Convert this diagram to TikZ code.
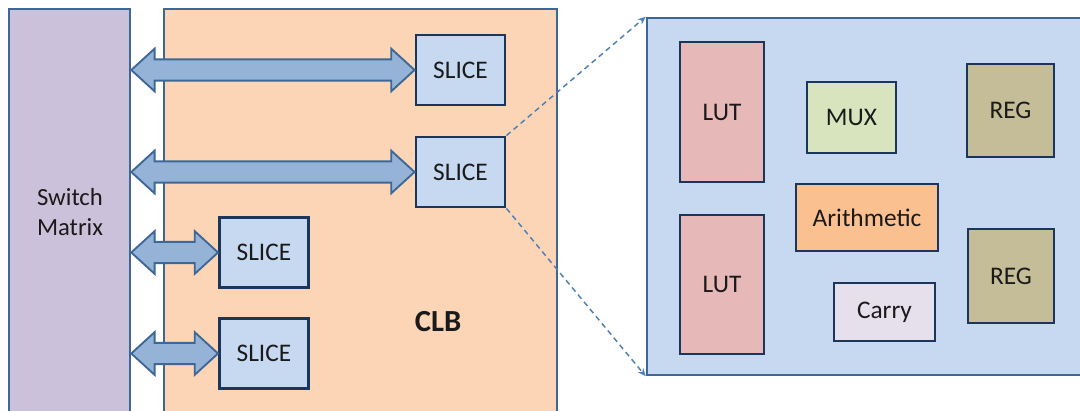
\documentclass[tikz,border=0pt]{standalone}
\usepackage{fontspec}
\setmainfont{Carlito}
\usetikzlibrary{calc,arrows.meta}

\definecolor{edgeblue}{HTML}{3D6797}
\definecolor{navy}{HTML}{1C355A}
\definecolor{smfill}{HTML}{CCC1DA}
\definecolor{clbfill}{HTML}{FBD5B5}
\definecolor{slicefill}{HTML}{C6D9F1}
\definecolor{arrowfill}{HTML}{95B3D7}
\definecolor{lutfill}{HTML}{E6B9B8}
\definecolor{muxfill}{HTML}{D7E4BD}
\definecolor{regfill}{HTML}{C4BD97}
\definecolor{arithfill}{HTML}{FAC090}
\definecolor{carryfill}{HTML}{E6E0EC}
\definecolor{txt}{HTML}{1A1A1A}
\definecolor{dashblue}{HTML}{4F7FB8}

\tikzset{
  outerbox/.style={draw=edgeblue, line width=1.9pt, inner sep=0pt},
  block/.style={draw=navy, line width=2.2pt, inner sep=0pt, text=txt, font=\fontsize{19}{22}\selectfont},
  slicebox/.style={block, fill=slicefill, minimum width=66.75pt, minimum height=52.5pt},
  dblarrow/.style={fill=arrowfill, draw=edgeblue, line width=1.4pt, line join=miter},
  zoomline/.style={draw=dashblue, line width=1.1pt, dash pattern=on 4pt off 3pt, -{Stealth[length=6pt,width=5pt]}},
  label/.style={text=txt, inner sep=0pt}
}

% double-headed block arrow from the east side of #1 to the west side of #2
\newcommand\busarrow[2]{%
  \filldraw[dblarrow] let \p1=(#1.east |- #2.west), \p2=(#2.west) in
    (\x1,\y1) -- (\x1+17.5pt,\y1+16pt) -- (\x1+17.5pt,\y1+8pt)
    -- (\x2-17.5pt,\y1+8pt) -- (\x2-17.5pt,\y1+16pt) -- (\x2,\y1)
    -- (\x2-17.5pt,\y1-16pt) -- (\x2-17.5pt,\y1-8pt)
    -- (\x1+17.5pt,\y1-8pt) -- (\x1+17.5pt,\y1-16pt) -- cycle;}

\begin{document}
\begin{tikzpicture}[x=0.75pt,y=-0.75pt]
\useasboundingbox (0,0) rectangle (1080,410);
\fill[white] (0,0) rectangle (1080,410);

% switch matrix and CLB frames
\node[outerbox, fill=smfill, minimum width=90.75pt, minimum height=315.75pt] (sm) at (69.5,219.5) {};
\node[label, font=\fontsize{18.5}{23}\selectfont, align=center] (smtext) at (70,212) {Switch\\Matrix};
\node[outerbox, fill=clbfill, minimum width=294.75pt, minimum height=315.75pt] (clb) at (360.5,219.5) {};
\node[label, font=\fontsize{23}{26}\selectfont\bfseries] (clbtext) at (438,322) {CLB};

% slices inside the CLB
\node[slicebox] (s1) at (460.5,70) {SLICE};
\node[slicebox] (s2) at (460.5,172) {SLICE};
\node[slicebox] (s3) at (264,252.5) {SLICE};
\node[slicebox] (s4) at (264,353.5) {SLICE};

% routing between switch matrix and slices
\busarrow{sm}{s1}
\busarrow{sm}{s2}
\busarrow{sm}{s3}
\busarrow{sm}{s4}

% expanded view of one slice
\node[outerbox, fill=slicefill, minimum width=336pt, minimum height=267.75pt] (detail) at (871,196.5) {};
\draw[zoomline] (s2.north east) -- (detail.north west);
\draw[zoomline] (s2.south east) -- (detail.south west);

\node[block, fill=lutfill, minimum width=63pt, minimum height=105pt] (lut1) at (722,112) {LUT};
\node[block, fill=lutfill, minimum width=63pt, minimum height=104.25pt] (lut2) at (722,284.5) {LUT};
\node[block, fill=muxfill, minimum width=66.75pt, minimum height=53.25pt] (mux) at (851.5,117.5) {MUX};
\node[block, fill=regfill, minimum width=65.25pt, minimum height=69.75pt] (reg1) at (1010.5,110.5) {REG};
\node[block, fill=arithfill, minimum width=106.5pt, minimum height=50.25pt] (arith) at (867,217.5) {Arithmetic};
\node[block, fill=regfill, minimum width=64.5pt, minimum height=70.5pt] (reg2) at (1011,276) {REG};
\node[block, fill=carryfill, minimum width=75.75pt, minimum height=43.5pt] (carry) at (884.5,312) {Carry};
\end{tikzpicture}
\end{document}
